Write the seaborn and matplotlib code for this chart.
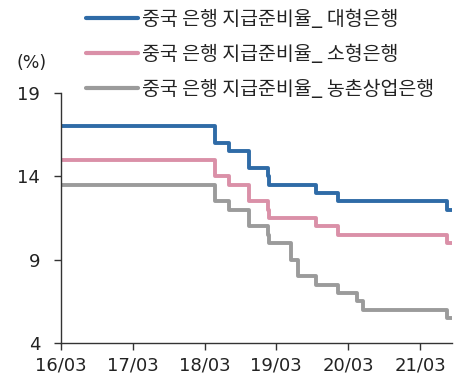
import pandas as pd
import matplotlib
matplotlib.use("Agg")
import matplotlib.pyplot as plt
import matplotlib.dates as mdates
import seaborn as sns

# Reserve requirement ratio (%) by bank type: change dates and the new level
large_dates = ["2016-03-01", "2018-04-25", "2018-07-05", "2018-10-15", "2019-01-15",
               "2019-01-25", "2019-09-16", "2020-01-06", "2021-07-15", "2021-08-10"]
large_rrr = [17.0, 16.0, 15.5, 14.5, 14.0, 13.5, 13.0, 12.5, 12.0, 12.0]

small_dates = ["2016-03-01", "2018-04-25", "2018-07-05", "2018-10-15", "2019-01-15",
               "2019-01-25", "2019-09-16", "2020-01-06", "2021-07-15", "2021-08-10"]
small_rrr = [15.0, 14.0, 13.5, 12.5, 12.0, 11.5, 11.0, 10.5, 10.0, 10.0]

rural_dates = ["2016-03-01", "2018-04-25", "2018-07-05", "2018-10-15", "2019-01-15",
               "2019-01-25", "2019-05-15", "2019-06-17", "2019-09-16", "2020-01-06",
               "2020-04-15", "2020-05-15", "2021-07-15", "2021-08-10"]
rural_rrr = [13.5, 12.5, 12.0, 11.0, 10.5, 10.0, 9.0, 8.0, 7.5, 7.0, 6.5, 6.0, 5.5, 5.5]

series_names = ["중국 은행 지급준비율_ 대형은행",
                "중국 은행 지급준비율_ 소형은행",
                "중국 은행 지급준비율_ 농촌상업은행"]
series_colors = ["#2F6BA7", "#DA90A8", "#9B9B9B"]

y_ticks = [4, 9, 14, 19]
x_ticks = ["2016-03-01", "2017-03-01", "2018-03-01", "2019-03-01", "2020-03-01", "2021-03-01"]

frames = []
for name, d, v in zip(series_names,
                      [large_dates, small_dates, rural_dates],
                      [large_rrr, small_rrr, rural_rrr]):
    frames.append(pd.DataFrame({"date": pd.to_datetime(d), "rrr": v, "series": name}))
df = pd.concat(frames, ignore_index=True)

sns.set_theme(style="ticks")
plt.rcParams["font.family"] = ["DejaVu Sans", "Noto Sans CJK KR"]

fig = plt.figure(figsize=(4.66, 3.8), dpi=100)
ax = fig.add_axes([61 / 466, 1 - 343 / 380, (452 - 61) / 466, (343 - 93) / 380])

sns.lineplot(data=df, x="date", y="rrr", hue="series", hue_order=series_names,
             palette=series_colors, estimator=None, drawstyle="steps-post",
             linewidth=2.8, ax=ax, legend=True)

ax.set_xlim(pd.Timestamp("2016-03-01"), pd.Timestamp("2021-08-10"))
ax.set_ylim(4, 19)
ax.set_yticks(y_ticks)
ax.set_xticks(pd.to_datetime(x_ticks))
ax.xaxis.set_major_formatter(mdates.DateFormatter("%y/%m"))
ax.set_xlabel("")
ax.set_ylabel("")

for side in ["top", "right"]:
    ax.spines[side].set_visible(False)
for side in ["left", "bottom"]:
    ax.spines[side].set_color("#333333")
    ax.spines[side].set_linewidth(1.0)
ax.tick_params(axis="both", colors="#333333", labelcolor="#222222",
               labelsize=13, length=5, width=1.0, direction="out")
ax.tick_params(axis="y", pad=10)
ax.tick_params(axis="x", pad=5)

ax.text(17 / 466, 1 - 63 / 380, "(%)", transform=fig.transFigure,
        fontsize=12.5, color="#222222", va="center", ha="left")

handles, labels = ax.get_legend_handles_labels()
ax.get_legend().remove()
leg = fig.legend(handles, labels, loc="upper left",
                 bbox_to_anchor=(82 / 466, 1 - 5 / 380),
                 frameon=False, handlelength=2.7, handletextpad=0.2,
                 labelspacing=0.72, borderaxespad=0, borderpad=0.2,
                 prop={"family": ["Noto Sans CJK KR", "DejaVu Sans"], "size": 14})
for line in leg.get_lines():
    line.set_linewidth(3.0)
for t in leg.get_texts():
    t.set_color("#222222")

fig.savefig("out.png", dpi=100)
